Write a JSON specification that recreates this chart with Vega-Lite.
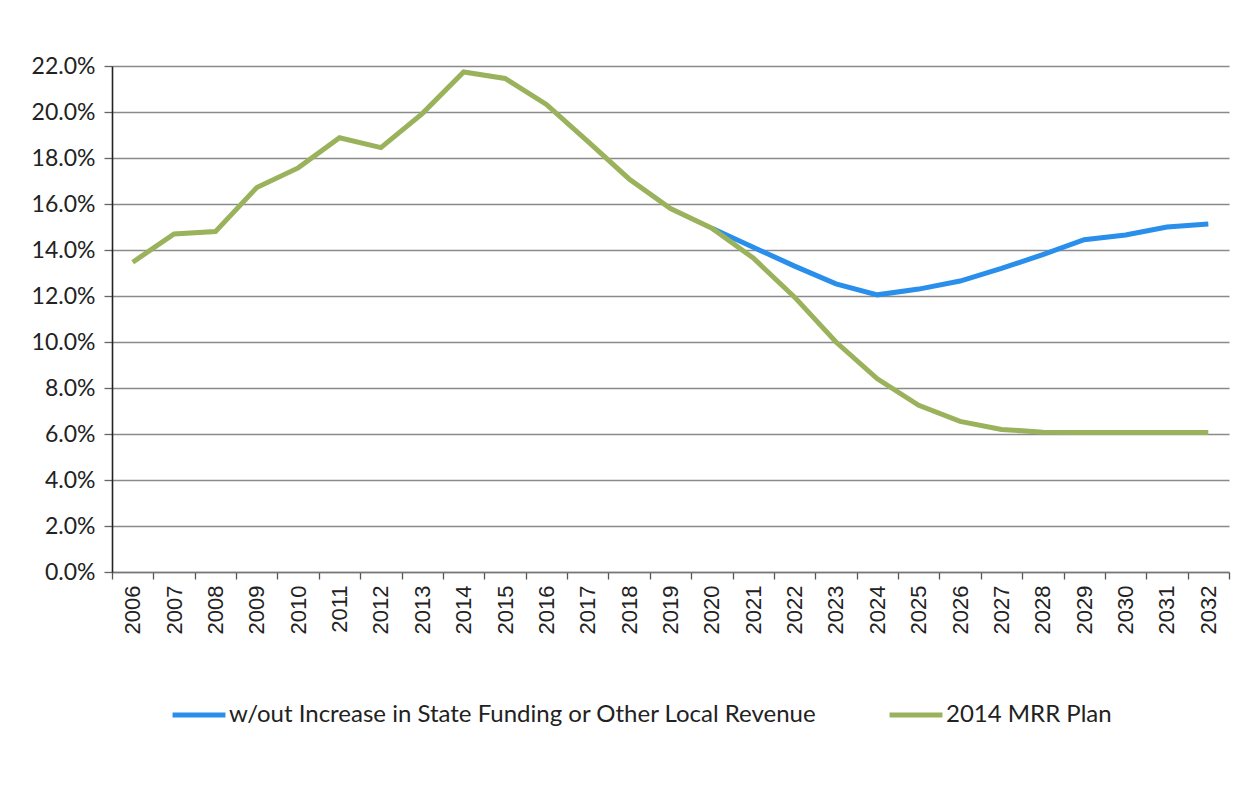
{
  "$schema": "https://vega.github.io/schema/vega-lite/v6.json",
  "width": 1117,
  "height": 506,
  "autosize": {"type": "none"},
  "padding": {"left": 112, "top": 66, "right": 16, "bottom": 219},
  "background": "white",
  "config": {"view": {"stroke": null}, "font": "Lato"},
  "data": {
    "values": [
      {"year": "2006", "series": "2014 MRR Plan", "value": 0.1347},
      {"year": "2007", "series": "2014 MRR Plan", "value": 0.1470},
      {"year": "2008", "series": "2014 MRR Plan", "value": 0.1480},
      {"year": "2009", "series": "2014 MRR Plan", "value": 0.1672},
      {"year": "2010", "series": "2014 MRR Plan", "value": 0.1757},
      {"year": "2011", "series": "2014 MRR Plan", "value": 0.1888},
      {"year": "2012", "series": "2014 MRR Plan", "value": 0.1845},
      {"year": "2013", "series": "2014 MRR Plan", "value": 0.1993},
      {"year": "2014", "series": "2014 MRR Plan", "value": 0.2174},
      {"year": "2015", "series": "2014 MRR Plan", "value": 0.2146},
      {"year": "2016", "series": "2014 MRR Plan", "value": 0.2033},
      {"year": "2017", "series": "2014 MRR Plan", "value": 0.1872},
      {"year": "2018", "series": "2014 MRR Plan", "value": 0.1709},
      {"year": "2019", "series": "2014 MRR Plan", "value": 0.1580},
      {"year": "2020", "series": "2014 MRR Plan", "value": 0.1495},
      {"year": "2021", "series": "2014 MRR Plan", "value": 0.1365},
      {"year": "2022", "series": "2014 MRR Plan", "value": 0.1195},
      {"year": "2023", "series": "2014 MRR Plan", "value": 0.1000},
      {"year": "2024", "series": "2014 MRR Plan", "value": 0.0840},
      {"year": "2025", "series": "2014 MRR Plan", "value": 0.0725},
      {"year": "2026", "series": "2014 MRR Plan", "value": 0.0655},
      {"year": "2027", "series": "2014 MRR Plan", "value": 0.0620},
      {"year": "2028", "series": "2014 MRR Plan", "value": 0.0608},
      {"year": "2029", "series": "2014 MRR Plan", "value": 0.0607},
      {"year": "2030", "series": "2014 MRR Plan", "value": 0.0606},
      {"year": "2031", "series": "2014 MRR Plan", "value": 0.0606},
      {"year": "2032", "series": "2014 MRR Plan", "value": 0.0607},
      {"year": "2020", "series": "w/out Increase in State Funding or Other Local Revenue", "value": 0.1495},
      {"year": "2021", "series": "w/out Increase in State Funding or Other Local Revenue", "value": 0.1412},
      {"year": "2022", "series": "w/out Increase in State Funding or Other Local Revenue", "value": 0.1330},
      {"year": "2023", "series": "w/out Increase in State Funding or Other Local Revenue", "value": 0.1253},
      {"year": "2024", "series": "w/out Increase in State Funding or Other Local Revenue", "value": 0.1205},
      {"year": "2025", "series": "w/out Increase in State Funding or Other Local Revenue", "value": 0.1230},
      {"year": "2026", "series": "w/out Increase in State Funding or Other Local Revenue", "value": 0.1265},
      {"year": "2027", "series": "w/out Increase in State Funding or Other Local Revenue", "value": 0.1320},
      {"year": "2028", "series": "w/out Increase in State Funding or Other Local Revenue", "value": 0.1380},
      {"year": "2029", "series": "w/out Increase in State Funding or Other Local Revenue", "value": 0.1445},
      {"year": "2030", "series": "w/out Increase in State Funding or Other Local Revenue", "value": 0.1465},
      {"year": "2031", "series": "w/out Increase in State Funding or Other Local Revenue", "value": 0.1500},
      {"year": "2032", "series": "w/out Increase in State Funding or Other Local Revenue", "value": 0.1513}
    ]
  },
  "encoding": {
    "x": {
      "field": "year",
      "type": "ordinal",
      "scale": {"type": "band", "paddingInner": 0, "paddingOuter": 0},
      "axis": {
        "title": null,
        "labelAngle": -90,
        "labelFont": "Liberation Sans",
        "labelFontSize": 22,
        "labelColor": "#222222",
        "tickBand": "extent",
        "tickSize": 7,
        "tickColor": "#555555",
        "tickWidth": 1.3,
        "domainColor": "#777777",
        "domainWidth": 1.3,
        "labelPadding": 6,
        "grid": false
      }
    },
    "y": {
      "field": "value",
      "type": "quantitative",
      "scale": {"domain": [0, 0.22], "nice": false},
      "axis": {
        "title": null,
        "values": [0, 0.02, 0.04, 0.06, 0.08, 0.1, 0.12, 0.14, 0.16, 0.18, 0.2, 0.22],
        "format": ".1%",
        "labelFont": "Lato",
        "labelFontSize": 23,
        "labelColor": "#222222",
        "labelPadding": 9,
        "tickSize": 8,
        "tickColor": "#666666",
        "tickWidth": 1.3,
        "domainColor": "#222222",
        "domainWidth": 1.6,
        "grid": true,
        "gridColor": "#8a8a8a",
        "gridWidth": 1.3
      }
    },
    "color": {
      "field": "series",
      "type": "nominal",
      "scale": {
        "domain": ["w/out Increase in State Funding or Other Local Revenue", "2014 MRR Plan"],
        "range": ["#2a8fea", "#9bb25c"]
      },
      "legend": {
        "title": null,
        "orient": "none",
        "legendX": 58,
        "legendY": 620,
        "direction": "horizontal",
        "symbolType": "stroke",
        "symbolSize": 2800,
        "symbolStrokeWidth": 5,
        "labelFont": "Lato",
        "labelFontSize": 24,
        "labelColor": "#222222",
        "labelOffset": 1,
        "labelLimit": 900,
        "columnPadding": 62,
        "padding": 0
      }
    }
  },
  "layer": [
    {
      "transform": [{"filter": {"field": "series", "equal": "w/out Increase in State Funding or Other Local Revenue"}}],
      "mark": {"type": "line", "strokeWidth": 5}
    },
    {
      "transform": [{"filter": {"field": "series", "equal": "2014 MRR Plan"}}],
      "mark": {"type": "line", "strokeWidth": 5}
    }
  ]
}
